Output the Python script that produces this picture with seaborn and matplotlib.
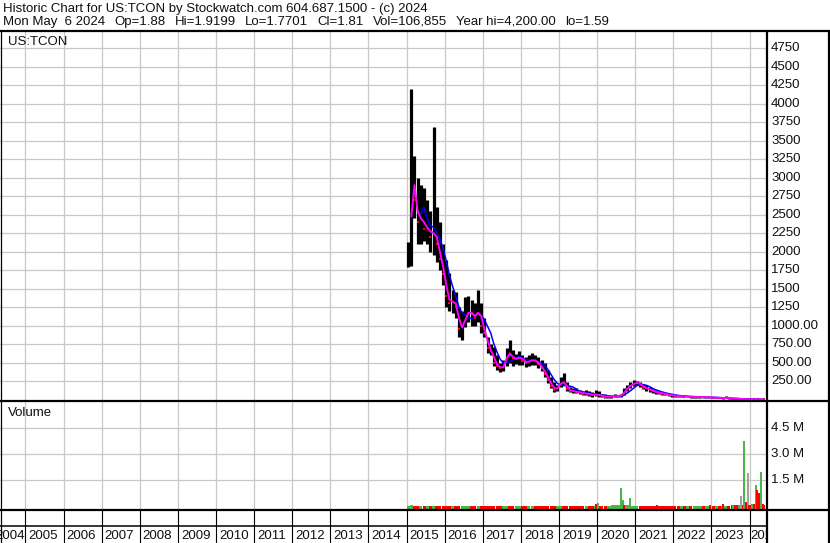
import numpy as np
import pandas as pd
import matplotlib
matplotlib.use("Agg")
import matplotlib.pyplot as plt
import matplotlib.transforms as mtransforms
import seaborn as sns

sns.set_theme(style="white")
plt.rcParams["font.family"] = ["Liberation Sans", "DejaVu Sans"]

# ------------------------------------------------------------------ data
first_year = 2015  # monthly bars from Jan 2015 to May 2024

price_high = [2130, 4200, 3300, 3000, 2900, 2860, 2700, 2550, 3680, 2600, 2400, 2100,
              1890, 1710, 1480, 1450, 1250, 1200, 1390, 1400, 1350, 1300, 1480, 1300,
              1100, 850, 750, 710, 600, 500, 535, 700, 805, 670, 620, 650,
              600, 580, 600, 630, 600, 575, 530, 490, 400, 300, 230, 200,
              300, 360, 230, 170, 160, 150, 130, 120, 130, 110, 100, 130,
              110, 80, 70, 60, 60, 70, 60, 80, 150, 200, 240, 260,
              255, 240, 210, 190, 170, 140, 130, 110, 100, 90, 80, 70,
              60, 60, 55, 55, 50, 50, 45, 45, 50, 40, 40, 40,
              35, 35, 30, 30, 50, 25, 25, 20, 15, 12, 10, 10,
              8, 6, 5, 4, 1.92]

price_low = [1790, 1800, 2450, 2100, 2100, 2150, 2100, 2000, 1950, 1860, 1750, 1550,
             1250, 1200, 1170, 1100, 850, 800, 980, 1050, 1000, 1000, 1050, 900,
             850, 630, 600, 450, 400, 370, 380, 450, 500, 450, 480, 470,
             460, 440, 450, 470, 470, 420, 380, 300, 220, 150, 100, 110,
             170, 200, 120, 100, 90, 85, 80, 60, 60, 50, 40, 50,
             40, 30, 20, 25, 25, 30, 30, 40, 60, 110, 160, 180,
             190, 170, 140, 120, 100, 90, 80, 70, 60, 55, 45, 40,
             35, 35, 30, 30, 30, 25, 25, 25, 25, 20, 20, 20,
             15, 15, 15, 12, 15, 10, 8, 6, 5, 4, 3, 2,
             2, 2, 2, 1.6, 1.77]

price_close = [1850, 3100, 2700, 2400, 2500, 2300, 2350, 2200, 2300, 2100, 1900, 1700,
               1400, 1300, 1350, 1250, 950, 1000, 1150, 1200, 1150, 1100, 1250, 1000,
               900, 700, 650, 500, 450, 420, 450, 650, 600, 550, 550, 580,
               520, 500, 520, 540, 520, 480, 420, 350, 260, 180, 130, 170,
               250, 220, 140, 120, 110, 100, 95, 80, 80, 70, 60, 70,
               55, 45, 35, 40, 40, 45, 45, 60, 120, 170, 200, 220,
               230, 200, 160, 150, 130, 110, 100, 90, 80, 70, 60, 55,
               50, 45, 45, 40, 40, 35, 35, 35, 35, 30, 30, 30,
               25, 25, 20, 20, 20, 15, 12, 10, 8, 6, 5, 4,
               3, 2.5, 2, 2, 1.81]

# baseline monthly volume (millions)
base_volume = [0.03, 0.05, 0.04, 0.03, 0.02, 0.02, 0.02, 0.02, 0.03, 0.02, 0.02, 0.02,
               0.02, 0.02, 0.02, 0.02, 0.03, 0.02, 0.02, 0.02, 0.02, 0.02, 0.02, 0.02,
               0.02, 0.03, 0.02, 0.02, 0.02, 0.02, 0.02, 0.03, 0.02, 0.02, 0.02, 0.02,
               0.02, 0.02, 0.02, 0.02, 0.02, 0.02, 0.02, 0.02, 0.03, 0.03, 0.02, 0.02,
               0.03, 0.03, 0.02, 0.02, 0.02, 0.02, 0.02, 0.02, 0.02, 0.02, 0.02, 0.03,
               0.03, 0.02, 0.03, 0.03, 0.04, 0.05, 0.05, 0.06, 0.06, 0.05, 0.04, 0.04,
               0.04, 0.04, 0.03, 0.03, 0.03, 0.03, 0.03, 0.03, 0.03, 0.03, 0.03, 0.03,
               0.03, 0.03, 0.03, 0.03, 0.03, 0.03, 0.03, 0.03, 0.03, 0.03, 0.03, 0.03,
               0.03, 0.03, 0.03, 0.03, 0.04, 0.04, 0.05, 0.05, 0.06, 0.08, 0.10, 0.10,
               0.10, 0.12, 0.15, 0.15, 0.10]

# notable daily volume spikes (decimal year, millions, direction)
spike_time = [2019.97, 2020.036, 2020.39, 2020.55, 2020.626, 2020.68, 2020.70, 2020.86,
              2021.57, 2022.96, 2023.30, 2023.57, 2023.72, 2023.775, 2023.866, 2023.906,
              2023.95, 2023.984, 2024.054, 2024.165, 2024.202, 2024.238, 2024.275,
              2024.30, 2024.34]
spike_volume = [0.13, 0.21, 0.05, 0.07, 1.06, 0.36, 0.07, 0.48,
                0.08, 0.08, 0.13, 0.06, 0.07, 0.59, 3.77, 0.25,
                1.94, 0.06, 0.14, 1.23, 0.94, 0.79, 0.29,
                1.98, 0.12]
spike_dir = ["down", "up", "up", "up", "up", "up", "down", "up",
             "down", "down", "down", "up", "up", "flat", "up", "down",
             "flat", "down", "up", "up", "down", "down", "down",
             "up", "down"]

year_labels = list(range(2004, 2025))
price_ticks = [250, 500, 750, 1000, 1250, 1500, 1750, 2000, 2250, 2500, 2750,
               3000, 3250, 3500, 3750, 4000, 4250, 4500, 4750]
price_tick_labels = ["250.00", "500.00", "750.00", "1000.00", "1250", "1500", "1750",
                     "2000", "2250", "2500", "2750", "3000", "3250", "3500", "3750",
                     "4000", "4250", "4500", "4750"]
volume_ticks = [1.5, 3.0, 4.5]
volume_tick_labels = ["1.5 M", "3.0 M", "4.5 M"]

header_1 = "Historic Chart for US:TCON by Stockwatch.com 604.687.1500 - (c) 2024"
header_2_fields = ["Mon May  6 2024", "Op=1.88", "Hi=1.9199", "Lo=1.7701", "Cl=1.81",
                   "Vol=106,855", "Year hi=4,200.00", "lo=1.59"]

# ------------------------------------------------------------------ layout
W, H = 830, 543
FS = 9.5
GRID = "#c8c8c8"
TXT = "#101010"
GREEN, RED, GRAY = "#4cb548", "#ff0000", "#a0a0a0"
PX_PER_YEAR = 38.116
X_LEFT = 2004.334
X_RIGHT = X_LEFT + 767 / PX_PER_YEAR
P_YLIM = (-20.3, 4984)
V_YLIM = (-0.156, 6.075)

fig = plt.figure(figsize=(W / 100, H / 100), dpi=100)
fig.patch.set_facecolor("white")


def rect(x0, y0, x1, y1):
    return [x0 / W, 1 - y1 / H, (x1 - x0) / W, (y1 - y0) / H]


ax_p = fig.add_axes(rect(0, 31, 767, 401))
ax_v = fig.add_axes(rect(0, 401, 767, 509))
ax_x = fig.add_axes(rect(0, 510, 767, 543))
over = fig.add_axes([0, 0, 1, 1])
over.set_xlim(0, W)
over.set_ylim(H, 0)
over.axis("off")

boundaries = year_labels[1:]
for ax in (ax_p, ax_v, ax_x):
    ax.set_xlim(X_LEFT, X_RIGHT)
    ax.set_facecolor("white")
    for s in ax.spines.values():
        s.set_visible(False)
    ax.tick_params(length=0, labelbottom=False, labelleft=False)

ax_p.set_ylim(*P_YLIM)
ax_v.set_ylim(*V_YLIM)
ax_p.set_xticks(boundaries)
ax_v.set_xticks(boundaries)
ax_p.set_yticks(price_ticks)
ax_v.set_yticks(volume_ticks)
for ax in (ax_p, ax_v):
    ax.grid(True, color=GRID, lw=0.9)
    ax.set_axisbelow(True)

# ------------------------------------------------------------------ price
n = len(price_close)
t = first_year + (np.arange(n) + 0.5) / 12.0
close = np.array(price_close, dtype=float)
df = pd.DataFrame({"t": t, "close": close})
df["ma_fast"] = df["close"].rolling(2, min_periods=2).mean()
df["ma_slow"] = df["close"].rolling(5, min_periods=4).mean()
prev = np.r_[close[0], close[:-1]]
down = close < prev

ax_p.vlines(t, price_low, price_high, color="black", lw=2.3, zorder=3)
ax_p.scatter(t[down], close[down], marker="s", s=3.5, color=RED, linewidths=0, zorder=4)
sns.lineplot(data=df, x="t", y="ma_slow", ax=ax_p, color="#0000ff", lw=1.1,
             zorder=5, legend=False)
sns.lineplot(data=df, x="t", y="ma_fast", ax=ax_p, color="#ff00ff", lw=1.4,
             zorder=6, legend=False)
ax_p.set_xlabel("")
ax_p.set_ylabel("")
ax_p.set_xlim(X_LEFT, X_RIGHT)
ax_p.set_ylim(*P_YLIM)

# ------------------------------------------------------------------ volume
vmin = V_YLIM[0]
base_colors = [RED if d else GREEN for d in down]
ax_v.bar(t, np.array(base_volume) - vmin, bottom=vmin, width=3.0 / PX_PER_YEAR,
         color=base_colors, linewidth=0, zorder=3)
dir_color = {"up": GREEN, "down": RED, "flat": GRAY}
ax_v.bar(spike_time, np.array(spike_volume) - vmin, bottom=vmin,
         width=2.0 / PX_PER_YEAR, color=[dir_color[d] for d in spike_dir],
         linewidth=0, zorder=4)
ax_v.set_ylim(*V_YLIM)

# ------------------------------------------------------------------ date strip
ax_x.set_ylim(0, 1)
ax_x.set_xticks([])
ax_x.set_yticks([])
for b in boundaries:
    ax_x.axvline(b, color="black", lw=0.8)
ax_x.axhline(0.515, color="black", lw=1.1)
for yr in year_labels:
    if yr == year_labels[0]:
        xpos, ha = yr + 1 - 0.5 / PX_PER_YEAR, "right"
    elif yr == year_labels[-1]:
        xpos, ha = yr + 1.0 / PX_PER_YEAR, "left"
    else:
        xpos, ha = yr + 3.0 / PX_PER_YEAR, "left"
    ax_x.text(xpos, 0.225, str(yr), fontsize=FS, va="center", ha=ha,
              color=TXT, clip_on=True)

# ------------------------------------------------------------------ texts
over.text(3, 9, header_1, fontsize=FS, va="center", ha="left", color=TXT)

# second header line: fields spread evenly between x=3 and x=609
renderer = fig.canvas.get_renderer()
field_texts = [over.text(0, 22, f, fontsize=FS, va="center", ha="left", color=TXT)
               for f in header_2_fields]
widths = [ft.get_window_extent(renderer).width for ft in field_texts]
gap = (609 - 3 - sum(widths)) / (len(widths) - 1)
xcur = 3.0
for ft, w in zip(field_texts, widths):
    ft.set_x(xcur)
    xcur += w + gap

over.text(8, 42, "US:TCON", fontsize=FS, va="center", ha="left", color=TXT)
over.text(8, 413, "Volume", fontsize=FS, va="center", ha="left", color=TXT)

bp = mtransforms.blended_transform_factory(over.transData, ax_p.transData)
for v, lab in zip(price_ticks, price_tick_labels):
    over.text(771, v, lab, transform=bp, fontsize=FS, va="center", ha="left",
              color=TXT, clip_on=False)
bv = mtransforms.blended_transform_factory(over.transData, ax_v.transData)
for v, lab in zip(volume_ticks, volume_tick_labels):
    over.text(771, v, lab, transform=bv, fontsize=FS, va="center", ha="left",
              color=TXT, clip_on=False)

# borders
K = dict(color="black", solid_capstyle="butt")
over.plot([0, W], [31, 31], lw=1.6, **K)
over.plot([0, W], [401, 401], lw=1.6, **K)
over.plot([0, W], [509.5, 509.5], lw=1.6, **K)
over.plot([0.5, 0.5], [31, H], lw=0.9, **K)
over.plot([766.5, 766.5], [31, H], lw=1.6, **K)
over.plot([829, 829], [31, H], lw=1.6, **K)

fig.savefig("out.png", dpi=100, facecolor="white")
